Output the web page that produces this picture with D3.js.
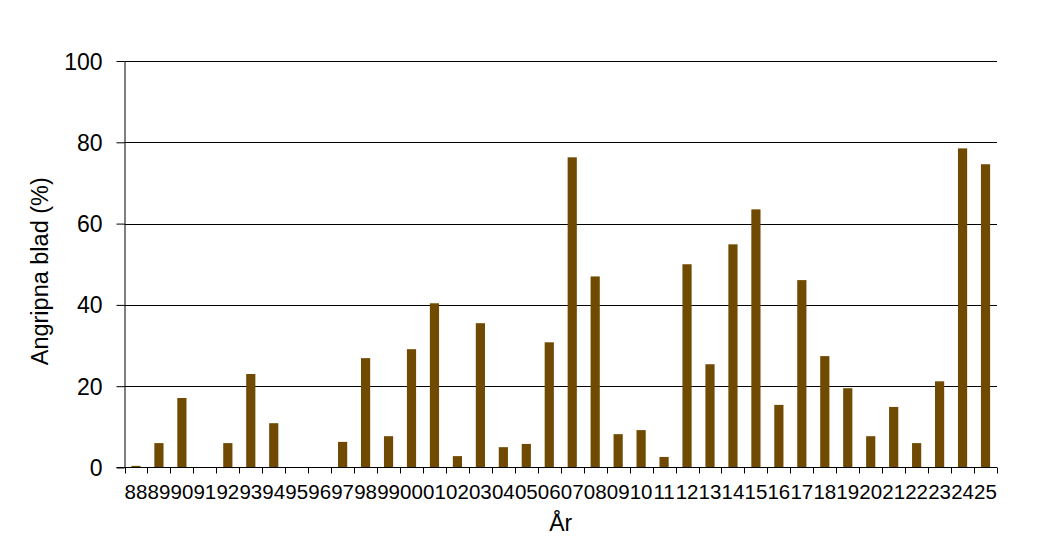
<!DOCTYPE html>
<html>
<head>
<meta charset="utf-8">
<script src="https://cdn.jsdelivr.net/npm/d3@7"></script>
<style>
  body { margin: 0; background: #fff; }
  text { font-family: "Liberation Sans", Arial, sans-serif; fill: #000; }
</style>
</head>
<body>
<script>
const years = ["88","89","90","91","92","93","94","95","96","97","98","99","00","01","02","03","04","05","06","07","08","09","10","11","12","13","14","15","16","17","18","19","20","21","22","23","24","25"];
const values = [0.4,6.0,17.1,0,6.0,23.0,10.9,0,0,6.3,26.9,7.7,29.1,40.4,2.8,35.5,5.0,5.8,30.8,76.3,47.0,8.2,9.2,2.6,50.0,25.4,54.9,63.5,15.4,46.1,27.4,19.5,7.7,14.9,6.0,21.2,78.5,74.6];
const yTicks = [0, 20, 40, 60, 80, 100];

const W = 1038, H = 553;
const plotLeft = 124.5, plotRight = 997, plotTop = 61, plotBottom = 467.5;

const svg = d3.select("body").append("svg")
  .attr("width", W)
  .attr("height", H);

const x = d3.scaleBand().domain(years).range([plotLeft, plotRight]).paddingInner(0.6).paddingOuter(0.3);
const y = d3.scaleLinear().domain([0, 100]).range([plotBottom, plotTop]);

// gridlines
svg.append("g")
  .selectAll("line")
  .data(yTicks.filter(d => d > 0))
  .join("line")
  .attr("x1", plotLeft).attr("x2", plotRight)
  .attr("y1", d => Math.round(y(d)) + 0.5).attr("y2", d => Math.round(y(d)) + 0.5)
  .attr("stroke", "#000").attr("stroke-width", 1);

// bars
svg.append("g")
  .selectAll("rect")
  .data(values)
  .join("rect")
  .attr("x", (d, i) => x(years[i]))
  .attr("width", x.bandwidth())
  .attr("y", d => y(d))
  .attr("height", d => y(0) - y(d))
  .attr("fill", "#6f4a00");

// y axis
const yAxis = svg.append("g")
  .attr("transform", `translate(${plotLeft},0)`)
  .call(d3.axisLeft(y).tickValues(yTicks).tickSize(8).tickSizeOuter(0).tickPadding(14));
yAxis.select(".domain").attr("stroke", "#000");
yAxis.selectAll(".tick line").attr("stroke", "#000");
yAxis.selectAll("text").style("font-size", "23px").attr("dy", "0.35em");

// x axis with ticks at band boundaries
const xg = svg.append("g")
  .attr("transform", `translate(0,${plotBottom})`);
xg.append("line")
  .attr("x1", plotLeft - 8).attr("x2", plotRight)
  .attr("stroke", "#000");
const bounds = d3.range(years.length + 1).map(i => plotLeft + i * (plotRight - plotLeft) / years.length);
xg.selectAll("line.tk")
  .data(bounds)
  .join("line")
  .attr("class", "tk")
  .attr("x1", d => Math.round(d) + 0.5).attr("x2", d => Math.round(d) + 0.5)
  .attr("y1", 0).attr("y2", 6)
  .attr("stroke", "#000");
xg.selectAll("text")
  .data(years)
  .join("text")
  .attr("x", d => x(d) + x.bandwidth() / 2)
  .attr("y", 31)
  .attr("text-anchor", "middle")
  .style("font-size", "20.5px")
  .text(d => d);

// axis titles
svg.append("text")
  .attr("x", (plotLeft + plotRight) / 2)
  .attr("y", 531)
  .attr("text-anchor", "middle")
  .style("font-size", "23px")
  .text("År");

svg.append("text")
  .attr("transform", `translate(48,${(plotTop + plotBottom) / 2 + 7}) rotate(-90)`)
  .attr("text-anchor", "middle")
  .style("font-size", "23.5px")
  .text("Angripna blad (%)");
</script>
</body>
</html>
